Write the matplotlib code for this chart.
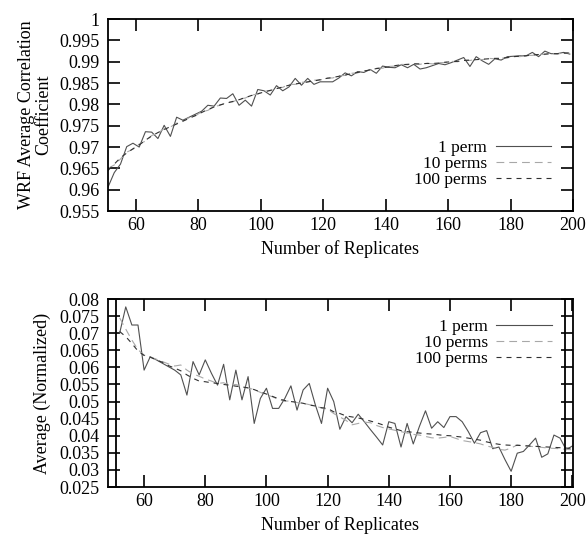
import matplotlib.pyplot as plt
import numpy as np

plt.rcParams['font.family'] = ['Liberation Serif', 'DejaVu Serif']
plt.rcParams['font.size'] = 13

# x values (number of replicates)
reps_top = np.arange(51, 200, 2)
reps_bot = np.arange(52, 201, 2)

# top panel: WRF average correlation coefficient
corr_1 = [0.9606, 0.9640, 0.9660, 0.9701, 0.9709, 0.9700, 0.9736, 0.9735, 0.9720, 0.9751,
          0.9725, 0.9770, 0.9763, 0.9770, 0.9777, 0.9784, 0.9798, 0.9796, 0.9815, 0.9814,
          0.9825, 0.9798, 0.9810, 0.9796, 0.9835, 0.9832, 0.9822, 0.9844, 0.9832, 0.9841,
          0.9861, 0.9845, 0.9861, 0.9847, 0.9853, 0.9853, 0.9853, 0.9862, 0.9874, 0.9867,
          0.9877, 0.9875, 0.9882, 0.9873, 0.9890, 0.9887, 0.9886, 0.9893, 0.9886, 0.9894,
          0.9883, 0.9886, 0.9891, 0.9896, 0.9893, 0.9898, 0.9904, 0.9910, 0.9889, 0.9912,
          0.9902, 0.9894, 0.9907, 0.9904, 0.9912, 0.9913, 0.9914, 0.9914, 0.9922, 0.9912,
          0.9925, 0.9919, 0.9919, 0.9922, 0.9918]
corr_10 = [0.9650, 0.9658, 0.9672, 0.9688, 0.9695, 0.9707, 0.9714, 0.9727, 0.9733, 0.9743,
           0.9747, 0.9756, 0.9760, 0.9769, 0.9773, 0.9783, 0.9786, 0.9795, 0.9798, 0.9805,
           0.9806, 0.9813, 0.9815, 0.9822, 0.9824, 0.9831, 0.9832, 0.9838, 0.9840, 0.9847,
           0.9847, 0.9852, 0.9852, 0.9857, 0.9857, 0.9862, 0.9862, 0.9867, 0.9868, 0.9873,
           0.9874, 0.9879, 0.9880, 0.9885, 0.9885, 0.9889, 0.9890, 0.9894, 0.9893, 0.9896,
           0.9894, 0.9897, 0.9895, 0.9898, 0.9898, 0.9901, 0.9900, 0.9904, 0.9903, 0.9906,
           0.9905, 0.9908, 0.9907, 0.9909, 0.9909, 0.9913, 0.9912, 0.9915, 0.9915, 0.9918,
           0.9917, 0.9920, 0.9918, 0.9921, 0.9920]
corr_100 = [0.9645, 0.9660, 0.9675, 0.9686, 0.9696, 0.9705, 0.9716, 0.9726, 0.9734, 0.9741,
            0.9748, 0.9754, 0.9761, 0.9767, 0.9774, 0.9781, 0.9788, 0.9794, 0.9799, 0.9803,
            0.9807, 0.9811, 0.9816, 0.9821, 0.9825, 0.9829, 0.9833, 0.9837, 0.9841, 0.9845,
            0.9848, 0.9850, 0.9853, 0.9855, 0.9858, 0.9861, 0.9863, 0.9866, 0.9869, 0.9872,
            0.9875, 0.9878, 0.9881, 0.9884, 0.9886, 0.9888, 0.9891, 0.9893, 0.9894, 0.9895,
            0.9895, 0.9896, 0.9896, 0.9897, 0.9899, 0.9900, 0.9901, 0.9903, 0.9904, 0.9905,
            0.9906, 0.9907, 0.9908, 0.9908, 0.9910, 0.9912, 0.9913, 0.9914, 0.9916, 0.9917,
            0.9918, 0.9919, 0.9919, 0.9920, 0.9921]

# bottom panel: average (normalized)
avg_1 = [0.0700, 0.0777, 0.0724, 0.0724, 0.0592, 0.0631, 0.0622, 0.0612, 0.0602, 0.0592,
         0.0578, 0.0519, 0.0617, 0.0578, 0.0622, 0.0583, 0.0548, 0.0609, 0.0505, 0.0592,
         0.0505, 0.0573, 0.0436, 0.0509, 0.0539, 0.0480, 0.0480, 0.0509, 0.0546, 0.0475,
         0.0534, 0.0553, 0.0490, 0.0436, 0.0539, 0.0500, 0.0419, 0.0456, 0.0438, 0.0463,
         0.0441, 0.0418, 0.0396, 0.0373, 0.0441, 0.0436, 0.0367, 0.0436, 0.0376, 0.0427,
         0.0473, 0.0422, 0.0441, 0.0424, 0.0456, 0.0456, 0.0441, 0.0412, 0.0378, 0.0409,
         0.0415, 0.0362, 0.0367, 0.0330, 0.0296, 0.0349, 0.0354, 0.0373, 0.0393, 0.0337,
         0.0347, 0.0402, 0.0393, 0.0359, 0.0370]
avg_10 = [0.0745, 0.0712, 0.0680, 0.0652, 0.0636, 0.0630, 0.0624, 0.0617, 0.0610, 0.0604,
          0.0607, 0.0592, 0.0581, 0.0574, 0.0566, 0.0560, 0.0553, 0.0555, 0.0548, 0.0550,
          0.0544, 0.0540, 0.0535, 0.0527, 0.0520, 0.0514, 0.0506, 0.0501, 0.0502, 0.0497,
          0.0495, 0.0491, 0.0487, 0.0481, 0.0478, 0.0465, 0.0455, 0.0445, 0.0432, 0.0436,
          0.0440, 0.0438, 0.0430, 0.0424, 0.0420, 0.0416, 0.0412, 0.0408, 0.0404, 0.0402,
          0.0398, 0.0394, 0.0393, 0.0395, 0.0398, 0.0392, 0.0386, 0.0383, 0.0380, 0.0376,
          0.0370, 0.0366, 0.0360, 0.0358, 0.0364, 0.0373, 0.0371, 0.0369, 0.0368, 0.0366,
          0.0364, 0.0363, 0.0362, 0.0360, 0.0359]
avg_100 = [0.0705, 0.0690, 0.0670, 0.0648, 0.0635, 0.0630, 0.0622, 0.0615, 0.0605, 0.0598,
           0.0590, 0.0578, 0.0568, 0.0560, 0.0558, 0.0555, 0.0553, 0.0550, 0.0548, 0.0545,
           0.0543, 0.0540, 0.0535, 0.0528, 0.0522, 0.0515, 0.0508, 0.0503, 0.0500, 0.0498,
           0.0495, 0.0490, 0.0487, 0.0482, 0.0480, 0.0470, 0.0465, 0.0458, 0.0455, 0.0452,
           0.0448, 0.0443, 0.0438, 0.0432, 0.0425, 0.0420, 0.0415, 0.0412, 0.0410, 0.0408,
           0.0406, 0.0405, 0.0403, 0.0401, 0.0400, 0.0398, 0.0396, 0.0393, 0.0390, 0.0387,
           0.0382, 0.0378, 0.0375, 0.0373, 0.0372, 0.0372, 0.0371, 0.0370, 0.0369, 0.0368,
           0.0367, 0.0366, 0.0365, 0.0364, 0.0363]

labels = ['1 perm', '10 perms', '100 perms']
colors = ['#505050', '#a8a8a8', '#303030']
styles = ['-', (0, (7, 4.5)), (0, (4.5, 4.5))]

# stray vertical frame lines seen in the lower panel
bottom_inner_lines = [50.8, 197.7]

fig = plt.figure(figsize=(5.87, 5.36), dpi=100)
ax1 = fig.add_axes([0.184, 0.6063, 0.792, 0.358])
ax2 = fig.add_axes([0.184, 0.0914, 0.792, 0.3507])

for s, c, ls, lab in zip([corr_1, corr_10, corr_100], colors, styles, labels):
    ax1.plot(reps_top, s, color=c, linestyle=ls, linewidth=0.8, label=lab)
for s, c, ls, lab in zip([avg_1, avg_10, avg_100], colors, styles, labels):
    ax2.plot(reps_bot, s, color=c, linestyle=ls, linewidth=0.8, label=lab)
for xv in bottom_inner_lines:
    ax2.axvline(xv, color='black', linewidth=1.3)

ax1.set_xlim(51, 200)
ax1.set_ylim(0.955, 1.0)
ax1.set_yticks(np.arange(0.955, 1.0001, 0.005))
ax1.set_yticklabels(['0.955', '0.96', '0.965', '0.97', '0.975', '0.98', '0.985', '0.99', '0.995', '1'])
ax2.set_xlim(48.2, 200.2)
ax2.set_ylim(0.025, 0.08)
ax2.set_yticks(np.arange(0.025, 0.08001, 0.005))
ax2.set_yticklabels(['0.025', '0.03', '0.035', '0.04', '0.045', '0.05', '0.055', '0.06',
                     '0.065', '0.07', '0.075', '0.08'])

for ax in (ax1, ax2):
    ax.set_xticks(np.arange(60, 201, 20))
    ax.tick_params(direction='in', length=8.5, width=1.2, top=True, right=True,
                   labelsize=13, pad=4)
    ax.tick_params(axis='y', pad=6)
    for sp in ax.spines.values():
        sp.set_linewidth(1.3)
    ax.set_xlabel('Number of Replicates', fontsize=13, labelpad=5)

ax1.set_ylabel('WRF Average Correlation\nCoefficient', fontsize=13, labelpad=5,
               linespacing=1.05)
ax2.set_ylabel('Average (Normalized)', fontsize=13, labelpad=6)

for ax, anchor in ((ax1, (0.953, 0.245)), (ax2, (0.955, 0.766))):
    ax.legend(loc='center right', bbox_to_anchor=anchor, frameon=False,
              markerfirst=False, handlelength=3.2, handletextpad=0.5, labelspacing=0.0,
              borderpad=0, borderaxespad=0, fontsize=12.5)

plt.savefig('out.png', dpi=100)
